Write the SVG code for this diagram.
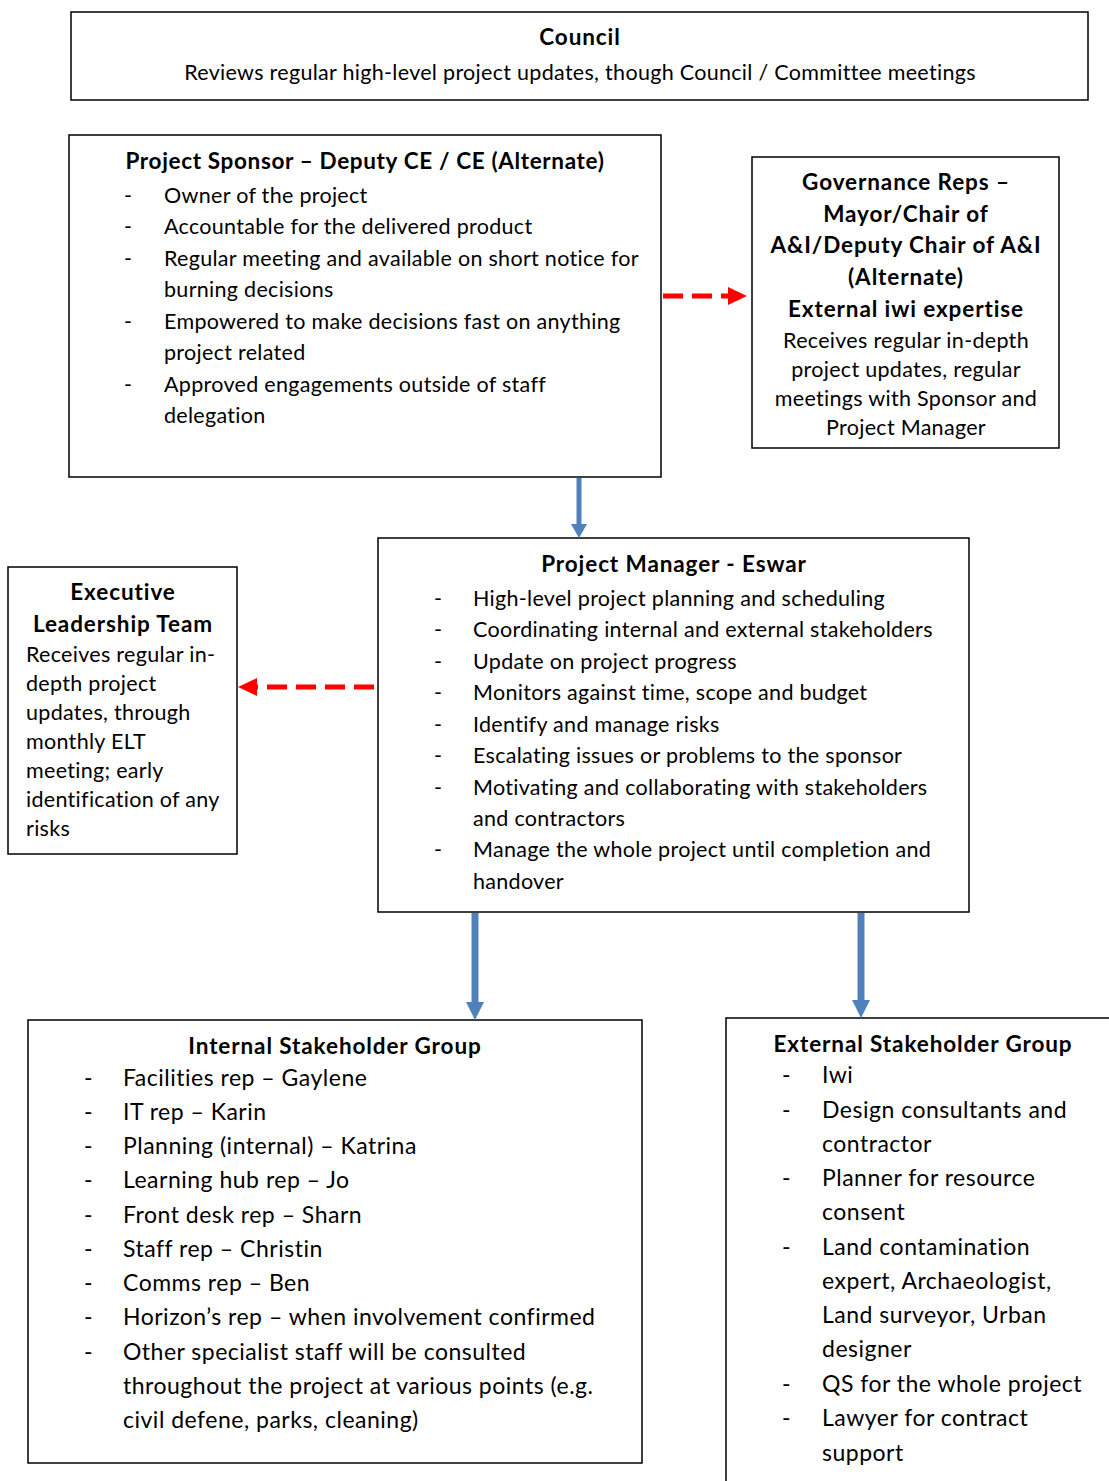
<svg xmlns="http://www.w3.org/2000/svg" width="1109" height="1481" viewBox="0 0 1109 1481">
<style>
text{font-family:Lato,"Open Sans","Liberation Sans",sans-serif;fill:#000}
.t{font-weight:bold;font-size:22.5px;letter-spacing:0.9px;text-anchor:middle}
.b{font-size:21.5px;letter-spacing:0.3px}
.l{font-size:23px;letter-spacing:0.5px}
.c{text-anchor:middle}
.box{fill:#fff;stroke:#000;stroke-width:1.5}
.red{stroke:#f00;stroke-width:5;stroke-dasharray:20 9;fill:none}
.blue{stroke:#4f81bd;fill:none}
</style>
<rect width="1109" height="1481" fill="#fff"/>
<g id="council">
<rect class="box" x="71" y="12" width="1017" height="88"/>
<text class="t" x="580" y="45">Council</text>
<text class="b c" x="580" y="80">Reviews regular high-level project updates, though Council / Committee meetings</text>
</g>
<g id="sponsor">
<rect class="box" x="69" y="135" width="592" height="342"/>
<text class="t" x="365" y="169" style="letter-spacing:0.65px">Project Sponsor – Deputy CE / CE (Alternate)</text>
<g class="b">
<text x="124" y="203">-</text><text x="164" y="203">Owner of the project</text>
<text x="124" y="234">-</text><text x="164" y="234">Accountable for the delivered product</text>
<text x="124" y="266">-</text><text x="164" y="266">Regular meeting and available on short notice for</text>
<text x="164" y="297">burning decisions</text>
<text x="124" y="329">-</text><text x="164" y="329">Empowered to make decisions fast on anything</text>
<text x="164" y="360">project related</text>
<text x="124" y="392">-</text><text x="164" y="392">Approved engagements outside of staff</text>
<text x="164" y="423">delegation</text>
</g>
</g>
<g id="governance">
<rect class="box" x="752" y="157" width="307" height="291"/>
<text class="t" x="906" y="190">Governance Reps –</text>
<text class="t" x="906" y="222">Mayor/Chair of</text>
<text class="t" x="906" y="253">A&amp;I/Deputy Chair of A&amp;I</text>
<text class="t" x="906" y="285">(Alternate)</text>
<text class="t" x="906" y="317">External iwi expertise</text>
<text class="b c" x="906" y="348">Receives regular in-depth</text>
<text class="b c" x="906" y="377">project updates, regular</text>
<text class="b c" x="906" y="406">meetings with Sponsor and</text>
<text class="b c" x="906" y="435">Project Manager</text>
</g>
<g id="pm">
<rect class="box" x="378" y="538" width="591" height="374"/>
<text class="t" x="674" y="572">Project Manager - Eswar</text>
<g class="b">
<text x="434" y="606">-</text><text x="473" y="606">High-level project planning and scheduling</text>
<text x="434" y="637">-</text><text x="473" y="637">Coordinating internal and external stakeholders</text>
<text x="434" y="669">-</text><text x="473" y="669">Update on project progress</text>
<text x="434" y="700">-</text><text x="473" y="700">Monitors against time, scope and budget</text>
<text x="434" y="732">-</text><text x="473" y="732">Identify and manage risks</text>
<text x="434" y="763">-</text><text x="473" y="763">Escalating issues or problems to the sponsor</text>
<text x="434" y="795">-</text><text x="473" y="795">Motivating and collaborating with stakeholders</text>
<text x="473" y="826">and contractors</text>
<text x="434" y="857">-</text><text x="473" y="857">Manage the whole project until completion and</text>
<text x="473" y="889">handover</text>
</g>
</g>
<g id="elt">
<rect class="box" x="8" y="567" width="229" height="287"/>
<text class="t" x="123" y="600">Executive</text>
<text class="t" x="123" y="632">Leadership Team</text>
<g class="b">
<text x="26" y="662">Receives regular in-</text>
<text x="26" y="691">depth project</text>
<text x="26" y="720">updates, through</text>
<text x="26" y="749">monthly ELT</text>
<text x="26" y="778">meeting; early</text>
<text x="26" y="807">identification of any</text>
<text x="26" y="836">risks</text>
</g>
</g>
<g id="internal">
<rect class="box" x="28" y="1020" width="614" height="443"/>
<text class="t" x="335" y="1054">Internal Stakeholder Group</text>
<g class="l">
<text x="84" y="1086">-</text><text x="123" y="1086">Facilities rep – Gaylene</text>
<text x="84" y="1120">-</text><text x="123" y="1120">IT rep – Karin</text>
<text x="84" y="1154">-</text><text x="123" y="1154">Planning (internal) – Katrina</text>
<text x="84" y="1188">-</text><text x="123" y="1188">Learning hub rep – Jo</text>
<text x="84" y="1223">-</text><text x="123" y="1223">Front desk rep – Sharn</text>
<text x="84" y="1257">-</text><text x="123" y="1257">Staff rep – Christin</text>
<text x="84" y="1291">-</text><text x="123" y="1291">Comms rep – Ben</text>
<text x="84" y="1325">-</text><text x="123" y="1325">Horizon’s rep – when involvement confirmed</text>
<text x="84" y="1360">-</text><text x="123" y="1360">Other specialist staff will be consulted</text>
<text x="123" y="1394">throughout the project at various points (e.g.</text>
<text x="123" y="1428">civil defene, parks, cleaning)</text>
</g>
</g>
<g id="external">
<rect class="box" x="726" y="1018" width="390" height="470"/>
<text class="t" x="923" y="1052">External Stakeholder Group</text>
<g class="l">
<text x="782" y="1083">-</text><text x="822" y="1083">Iwi</text>
<text x="782" y="1118">-</text><text x="822" y="1118">Design consultants and</text>
<text x="822" y="1152">contractor</text>
<text x="782" y="1186">-</text><text x="822" y="1186">Planner for resource</text>
<text x="822" y="1220">consent</text>
<text x="782" y="1255">-</text><text x="822" y="1255">Land contamination</text>
<text x="822" y="1289">expert, Archaeologist,</text>
<text x="822" y="1323">Land surveyor, Urban</text>
<text x="822" y="1357">designer</text>
<text x="782" y="1392">-</text><text x="822" y="1392">QS for the whole project</text>
<text x="782" y="1426">-</text><text x="822" y="1426">Lawyer for contract</text>
<text x="822" y="1461">support</text>
</g>
</g>
<g id="connectors">
<path class="red" d="M663,296 H730"/>
<path d="M728,287 L747,296 L728,305z" fill="#f00"/>
<path class="red" d="M374,687 H257"/>
<path d="M257,678 L238,687 L257,696z" fill="#f00"/>
<path class="blue" stroke-width="5" d="M579,478 V525"/>
<path d="M571,524 L587,524 L579,538z" fill="#4f81bd"/>
<path class="blue" stroke-width="7" d="M475,913 V1003"/>
<path d="M466,1002 L484,1002 L475,1020z" fill="#4f81bd"/>
<path class="blue" stroke-width="7" d="M861,913 V1001"/>
<path d="M852,1000 L870,1000 L861,1018z" fill="#4f81bd"/>
</g>
</svg>
